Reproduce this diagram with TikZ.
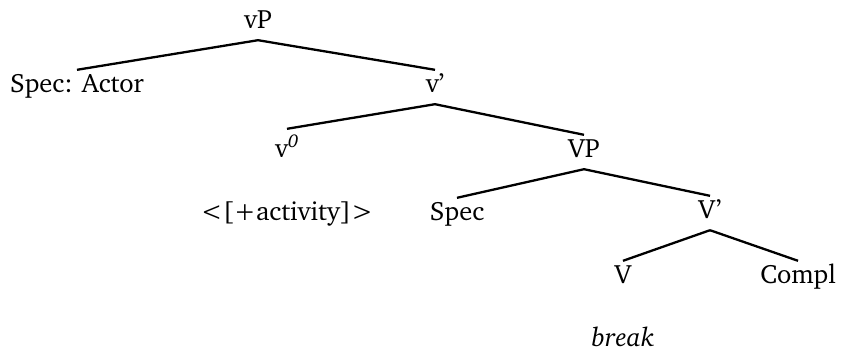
\documentclass[tikz,border=0pt]{standalone}
\usepackage[T1]{fontenc}
\usepackage{charter}
\usepackage{tikz}

\begin{document}
\begin{tikzpicture}[x=1pt, y=-1pt,
	cat/.style={anchor=base, inner sep=0pt, text height=22pt, text depth=12pt, font=\fontsize{26.5}{30}\selectfont},
	branch/.style={line width=2.3pt}]
	\useasboundingbox (0,0) rectangle (842,351);

	% categories, placed by their baselines
	\node[cat] (vP) at (258,28) {vP};
	\node[cat] (specA) at (77,92) {Spec: Actor};
	\node[cat] (vbar) at (435,92) {v'};
	\node[cat, text height=28pt] (v0) at (287,157) {v\textsuperscript{\textit{0}}};
	\node[cat] (VP) at (584,157) {VP};
	\node[cat] (feat) at (287,220) {<[+activity]>};
	\node[cat] (spec) at (457,220) {Spec};
	\node[cat] (Vbar) at (710,218) {V'};
	\node[cat] (V) at (623,283) {V};
	\node[cat] (compl) at (798,283) {Compl};
	\node[cat] (brk) at (623,346) {\textit{break}};

	% branches
	\draw[branch] (vP.south) -- (specA.north);
	\draw[branch] (vP.south) -- (vbar.north);
	\draw[branch] (vbar.south) -- (v0.north);
	\draw[branch] (vbar.south) -- (VP.north);
	\draw[branch] (VP.south) -- (spec.north);
	\draw[branch] (VP.south) -- (Vbar.north);
	\draw[branch] (Vbar.south) -- (V.north);
	\draw[branch] (Vbar.south) -- (compl.north);

\end{tikzpicture}
\end{document}
